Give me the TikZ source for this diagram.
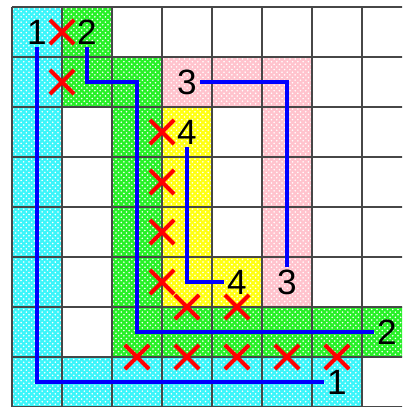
\documentclass[tikz,border=0pt]{standalone}
\usepackage{fontspec}
\setsansfont{Liberation Sans}
\usepackage{tikz}
\usetikzlibrary{calc,shapes.misc,patterns}
\definecolor{cellCyan}{RGB}{60,245,250}
\definecolor{cellGreen}{RGB}{40,240,40}
\definecolor{cellPink}{RGB}{255,195,205}
\definecolor{cellYellow}{RGB}{255,255,20}
\definecolor{routeBlue}{RGB}{0,0,255}
\definecolor{markRed}{RGB}{255,0,0}

\tikzset{
  cellfill/.style={fill=#1, postaction={pattern=crosshatch dots, pattern color=white}},
  gridline/.style={black!72, line width=1.1pt},
  route/.style={routeBlue, line width=2.5pt},
  tag/.style={inner sep=1.5pt, font=\sffamily\fontsize{20}{22}\selectfont},
  xmark/.style={cross out, draw=markRed, line width=2.4pt, minimum size=0.4cm, inner sep=0pt}
}

\begin{document}
\begin{tikzpicture}
\useasboundingbox (-0.24,-8) rectangle (7.8,0.14);
\clip (-0.24,-8) rectangle (7.8,0.14);

% coloured regions
\path[cellfill=cellCyan] (0,0) rectangle (1,-8) (1,-7) rectangle (7,-8);
\path[cellfill=cellGreen] (1,0) rectangle (2,-2) (2,-1) rectangle (3,-7) (3,-6) rectangle (8,-7);
\path[cellfill=cellPink] (3,-1) rectangle (6,-2) (5,-2) rectangle (6,-6);
\path[cellfill=cellYellow] (3,-2) rectangle (4,-6) (4,-5) rectangle (5,-6);

\draw[gridline] (0,0) grid (8,-8);

% end points
\node[tag] (a1) at (0.5,-0.5) {1};
\node[tag] (b1) at (6.5,-7.5) {1};
\node[tag] (a2) at (1.5,-0.5) {2};
\node[tag] (b2) at (7.5,-6.5) {2};
\node[tag] (a3) at (3.5,-1.5) {3};
\node[tag] (b3) at (5.5,-5.5) {3};
\node[tag] (a4) at (3.5,-2.5) {4};
\node[tag] (b4) at (4.5,-5.5) {4};

\draw[route] (a1.south) |- (b1.west);
\draw[route] (a2.south) |- (2.5,-1.5) |- (b2.west);
\draw[route] (a3.east) -| (b3.north);
\draw[route] (a4.south) |- (b4.west);

% crosses
\foreach \x/\y [count=\i] in {1/-0.5, 1/-1.5, 3/-2.5, 3/-3.5, 3/-4.5, 3/-5.5,
    3.5/-6, 4.5/-6, 2.5/-7, 3.5/-7, 4.5/-7, 5.5/-7, 6.5/-7}
  \node[xmark] (x\i) at (\x,\y) {};
\end{tikzpicture}
\end{document}
